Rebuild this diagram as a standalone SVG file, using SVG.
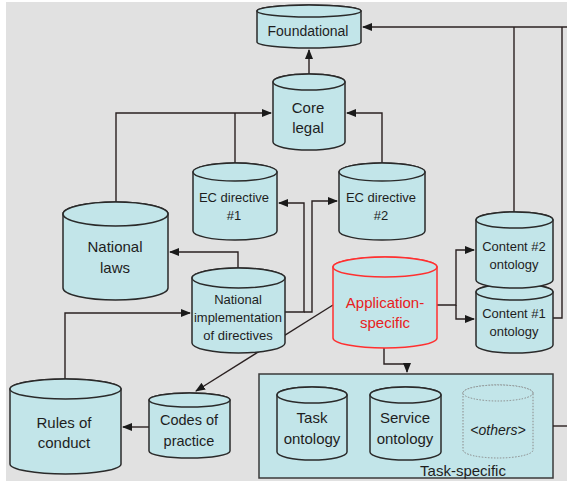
<svg xmlns="http://www.w3.org/2000/svg" width="567" height="481" viewBox="0 0 567 481">
<defs>
<marker id="ah" markerWidth="10" markerHeight="8" refX="9" refY="4" orient="auto" markerUnits="userSpaceOnUse">
<path d="M0,0 L10,4 L0,8 Z" fill="#1a1a1a"/>
</marker>
<style>
.cyl{fill:#c2e5e9;stroke:#2a2a2a;stroke-width:1.5}
.red{fill:#c2e5e9;stroke:#ff3030;stroke-width:1.5}
.dash{fill:#c2e5e9;stroke:#8a8a8a;stroke-width:1;stroke-dasharray:1.5 1.5}
.t{font-family:"Liberation Sans",Arial,sans-serif;fill:#1e1e1e;text-anchor:middle}
.c{fill:none;stroke:#2a2020;stroke-width:1.4}
</style>
</defs>
<rect x="0" y="0" width="567" height="481" fill="#ffffff"/>
<rect x="6" y="2" width="561" height="479" fill="#e1e1e1"/>

<g id="task-specific">
<rect x="259" y="374" width="294" height="104" fill="#c2e5e9" stroke="#3a3a3a" stroke-width="1.5"/>
<text class="t" x="463" y="476" font-size="15">Task-specific</text>
</g>

<g id="connectors">
<path class="c" d="M567,27 H363" marker-end="url(#ah)"/>
<path class="c" d="M514,212 V27"/>
<path class="c" d="M553,318 H562 V27"/>
<path class="c" d="M309,74 V50" marker-end="url(#ah)"/>
<path class="c" d="M116,202 V113 H271" marker-end="url(#ah)"/>
<path class="c" d="M235,163 V113"/>
<path class="c" d="M382,163 V113 H347" marker-end="url(#ah)"/>
<path class="c" d="M238,268 V252 H170" marker-end="url(#ah)"/>
<path class="c" d="M285,312 H304 V203 H279" marker-end="url(#ah)"/>
<path class="c" d="M304,312 H312 V201 H337" marker-end="url(#ah)"/>
<path class="c" d="M65,379 V313 H190" marker-end="url(#ah)"/>
<path class="c" d="M333,305 L196,391" marker-end="url(#ah)"/>
<path class="c" d="M149,427 H123" marker-end="url(#ah)"/>
<path class="c" d="M437,305 H456 V250 H474" marker-end="url(#ah)"/>
<path class="c" d="M456,305 V319 H474" marker-end="url(#ah)"/>
<path class="c" d="M384,348 V364 H407 V372" marker-end="url(#ah)"/>
<path class="c" d="M553,426 H567"/>
</g>

<g id="foundational">
<path class="cyl" d="M257,11 A52,6 0 0 1 361,11 V42 A52,6 0 0 1 257,42 Z"/>
<ellipse class="cyl" cx="309" cy="11" rx="52" ry="6"/>
<text class="t" x="308" y="36" font-size="14">Foundational</text>
</g>

<g id="core-legal">
<path class="cyl" d="M273,82 A36,8 0 0 1 345,82 V142 A36,8 0 0 1 273,142 Z"/>
<ellipse class="cyl" cx="309" cy="82" rx="36" ry="8"/>
<text class="t" x="308" y="113" font-size="15">Core</text>
<text class="t" x="308" y="133" font-size="15">legal</text>
</g>

<g id="ec-directive-1">
<path class="cyl" d="M193,172 A42,9 0 0 1 277,172 V231 A42,9 0 0 1 193,231 Z"/>
<ellipse class="cyl" cx="235" cy="172" rx="42" ry="9"/>
<text class="t" x="234" y="202" font-size="13">EC directive</text>
<text class="t" x="234" y="220" font-size="13">#1</text>
</g>

<g id="ec-directive-2">
<path class="cyl" d="M339,172 A43,9 0 0 1 425,172 V231 A43,9 0 0 1 339,231 Z"/>
<ellipse class="cyl" cx="382" cy="172" rx="43" ry="9"/>
<text class="t" x="381" y="202" font-size="13">EC directive</text>
<text class="t" x="381" y="220" font-size="13">#2</text>
</g>

<g id="national-laws">
<path class="cyl" d="M63,214 A52.5,12 0 0 1 168,214 V288 A52.5,12 0 0 1 63,288 Z"/>
<ellipse class="cyl" cx="115.5" cy="214" rx="52.5" ry="12"/>
<text class="t" x="115" y="252" font-size="15">National</text>
<text class="t" x="115" y="273" font-size="15">laws</text>
</g>

<g id="national-implementation">
<path class="cyl" d="M192,278 A46.5,10 0 0 1 285,278 V343 A46.5,10 0 0 1 192,343 Z"/>
<ellipse class="cyl" cx="238.5" cy="278" rx="46.5" ry="10"/>
<text class="t" x="238" y="304" font-size="13">National</text>
<text class="t" x="238" y="322" font-size="13">implementation</text>
<text class="t" x="238" y="340" font-size="13">of directives</text>
</g>

<g id="application-specific">
<path class="red" d="M333,267 A52,10 0 0 1 437,267 V338 A52,10 0 0 1 333,338 Z"/>
<ellipse class="red" cx="385" cy="267" rx="52" ry="10"/>
<text class="t" x="385" y="308" font-size="15" style="fill:#e82020">Application-</text>
<text class="t" x="385" y="328" font-size="15" style="fill:#e82020">specific</text>
</g>

<g id="content-1">
<path class="cyl" d="M476,292 A38.5,8 0 0 1 553,292 V345 A38.5,8 0 0 1 476,345 Z"/>
<ellipse class="cyl" cx="514.5" cy="292" rx="38.5" ry="8"/>
<text class="t" x="514" y="318" font-size="13">Content #1</text>
<text class="t" x="514" y="336" font-size="13">ontology</text>
</g>

<g id="content-2">
<path class="cyl" d="M476,220 A38.5,8 0 0 1 553,220 V280 A38.5,8 0 0 1 476,280 Z"/>
<ellipse class="cyl" cx="514.5" cy="220" rx="38.5" ry="8"/>
<text class="t" x="514" y="251" font-size="13">Content #2</text>
<text class="t" x="514" y="269" font-size="13">ontology</text>
</g>

<g id="rules-of-conduct">
<path class="cyl" d="M10,389 A55.5,10 0 0 1 121,389 V464 A55.5,10 0 0 1 10,464 Z"/>
<ellipse class="cyl" cx="65.5" cy="389" rx="55.5" ry="10"/>
<text class="t" x="64" y="428" font-size="15">Rules of</text>
<text class="t" x="64" y="448" font-size="15">conduct</text>
</g>

<g id="codes-of-practice">
<path class="cyl" d="M149,400 A40.5,7 0 0 1 230,400 V451 A40.5,7 0 0 1 149,451 Z"/>
<ellipse class="cyl" cx="189.5" cy="400" rx="40.5" ry="7"/>
<text class="t" x="189" y="425" font-size="14.5">Codes of</text>
<text class="t" x="189" y="446" font-size="14.5">practice</text>
</g>

<g id="task-ontology">
<path class="cyl" d="M277,395 A35,8 0 0 1 347,395 V452 A35,8 0 0 1 277,452 Z"/>
<ellipse class="cyl" cx="312" cy="395" rx="35" ry="8"/>
<text class="t" x="312" y="423" font-size="15">Task</text>
<text class="t" x="312" y="444" font-size="15">ontology</text>
</g>

<g id="service-ontology">
<path class="cyl" d="M370,395 A35.5,8 0 0 1 441,395 V452 A35.5,8 0 0 1 370,452 Z"/>
<ellipse class="cyl" cx="405.5" cy="395" rx="35.5" ry="8"/>
<text class="t" x="405" y="423" font-size="15">Service</text>
<text class="t" x="405" y="444" font-size="15">ontology</text>
</g>

<g id="others">
<path class="dash" d="M463,393 A35,8 0 0 1 533,393 V450 A35,8 0 0 1 463,450 Z"/>
<ellipse class="dash" cx="498" cy="393" rx="35" ry="8"/>
<text class="t" x="498" y="435" font-size="14" font-style="italic">&lt;others&gt;</text>
</g>
</svg>
